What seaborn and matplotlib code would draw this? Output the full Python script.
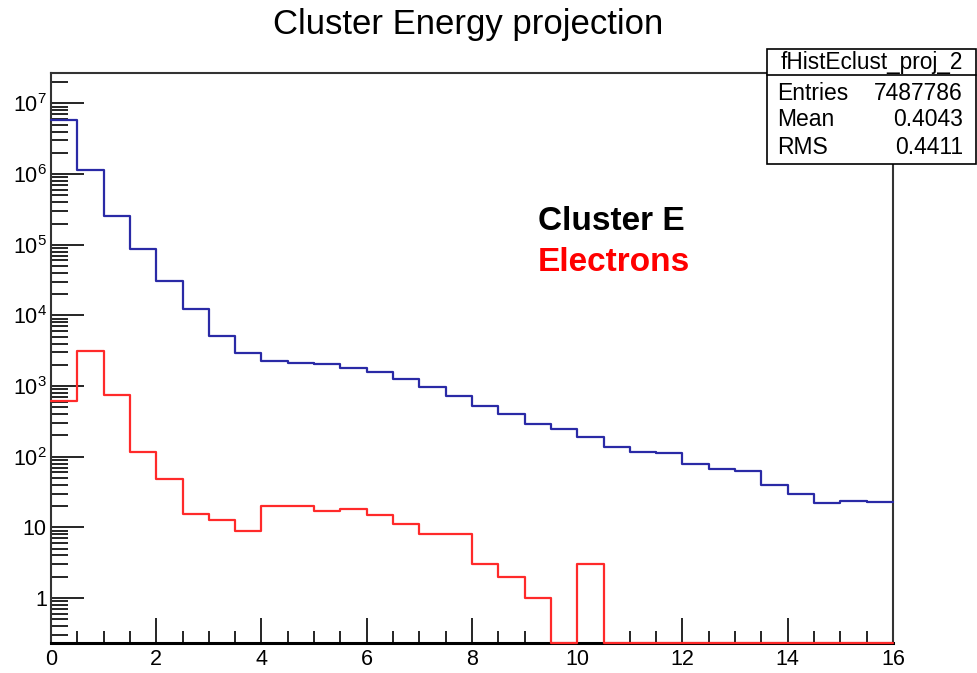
import numpy as np
import pandas as pd
import seaborn as sns
import matplotlib.pyplot as plt
from matplotlib.ticker import FixedLocator, LogLocator, FuncFormatter, MultipleLocator

#bins of 0.5 from 0 to 16
edges = np.arange(0, 16.5, 0.5)
centers = (edges[:-1] + edges[1:]) / 2

#cluster energy counts (blue)
cluster_e = [5.9e6, 1.13e6, 2.55e5, 8.7e4, 3.1e4, 1.22e4, 5.2e3, 2.9e3,
             2.24e3, 2.15e3, 2.05e3, 1.78e3, 1.59e3, 1.24e3, 980, 725,
             515, 397, 286, 246, 191, 137, 116, 112,
             79, 68, 62, 40, 29.5, 21.8, 24, 22.7]
#electron counts (red)
electrons = [617, 3150, 760, 116, 48, 15.5, 12.6, 8.9,
             20, 20, 17, 18, 15, 11, 8, 8,
             3, 2, 1, 0, 3, 0, 0, 0,
             0, 0, 0, 0, 0, 0, 0, 0]

stats_name = "fHistEclust_proj_2"
stats_rows = [("Entries", "7487786"), ("Mean", "0.4043"), ("RMS", "0.4411")]

ymin, ymax = 0.231, 2.7e7

sns.set_style("white")
plt.rcParams['font.family'] = ['Liberation Sans', 'DejaVu Sans']
plt.rcParams['mathtext.fontset'] = 'custom'
plt.rcParams['mathtext.rm'] = 'Liberation Sans'
plt.rcParams['mathtext.it'] = 'Liberation Sans'
plt.rcParams['text.color'] = 'black'
plt.rcParams['xtick.color'] = 'black'
plt.rcParams['ytick.color'] = 'black'

#ROOT draws empty bins along the bottom of a log frame
df = pd.DataFrame({"E": centers, "clus": cluster_e,
                   "ele": np.clip(np.array(electrons, dtype=float), ymin, None)})

fig = plt.figure(figsize=(9.77, 6.73), dpi=100)
ax = fig.add_axes([0.0522, 0.0446, 0.914 - 0.0522, 0.8915 - 0.0446])

sns.histplot(data=df, x="E", weights="clus", bins=list(edges), element="step", fill=False,
             color="#2a2aa6", linewidth=1.6, ax=ax)
sns.histplot(data=df, x="E", weights="ele", bins=list(edges), element="step", fill=False,
             color="#ff2a2a", linewidth=1.6, ax=ax)

ax.set_yscale("log")
ax.set_xlim(0, 16)
ax.set_ylim(ymin, ymax)
ax.set_xlabel("")
ax.set_ylabel("")
for line in ax.lines:
    line.set_clip_on(False)
    line.set_zorder(3)

def log_label(v, pos):
    e = int(round(np.log10(v)))
    if e == 0:
        return "1"
    if e == 1:
        return "10"
    return r"$10^{%d}$" % e

ax.yaxis.set_major_locator(FixedLocator([10.0 ** k for k in range(0, 8)]))
ax.yaxis.set_minor_locator(LogLocator(base=10, subs=np.arange(2, 10), numticks=20))
ax.yaxis.set_major_formatter(FuncFormatter(log_label))
ax.xaxis.set_major_locator(MultipleLocator(2))
ax.xaxis.set_minor_locator(MultipleLocator(0.5))

ax.tick_params(axis="both", which="both", direction="in", top=False, right=False,
               bottom=True, left=True, colors="black", labelsize=15.5)
ax.tick_params(axis="y", which="major", length=24, width=1.2, pad=3)
ax.tick_params(axis="y", which="minor", length=12, width=1.2)
ax.tick_params(axis="x", which="major", length=18, width=1.2, pad=4)
ax.tick_params(axis="x", which="minor", length=9, width=1.2)

for s in ax.spines.values():
    s.set_color("#333333")
    s.set_linewidth(1.5)
ax.spines["bottom"].set_color("black")
ax.spines["bottom"].set_linewidth(2.2)

fig.text(0.479, 0.963, "Cluster Energy projection", ha="center", va="center", fontsize=25)

ax.text(0.578, 0.74, "Cluster E", transform=ax.transAxes, fontsize=24,
        fontweight="bold", color="black", va="center")
ax.text(0.578, 0.667, "Electrons", transform=ax.transAxes, fontsize=24,
        fontweight="bold", color="#ff0000", va="center")

#stats box
bx0, bx1 = 767 / 977, 976 / 977
by_top, by_bot = 1 - 49 / 673, 1 - 164 / 673
by_sep = 1 - 75 / 673
fig.patches.append(plt.Rectangle((bx0, by_bot), bx1 - bx0, by_top - by_bot,
                                 transform=fig.transFigure, facecolor="white",
                                 edgecolor="black", linewidth=1.2, zorder=5))
fig.lines.append(plt.Line2D([bx0, bx1], [by_sep, by_sep], transform=fig.transFigure,
                            color="black", linewidth=1.2, zorder=6))
fig.text((bx0 + bx1) / 2, 1 - 62 / 673, stats_name, ha="center", va="center",
         fontsize=16.3, zorder=7)
for i, (k, v) in enumerate(stats_rows):
    yy = 1 - (93 + 27 * i) / 673
    fig.text(777 / 977, yy, k, ha="left", va="center", fontsize=16.5, zorder=7)
    fig.text(963 / 977, yy, v, ha="right", va="center", fontsize=16.5, zorder=7)

fig.savefig("out.png", dpi=100)
